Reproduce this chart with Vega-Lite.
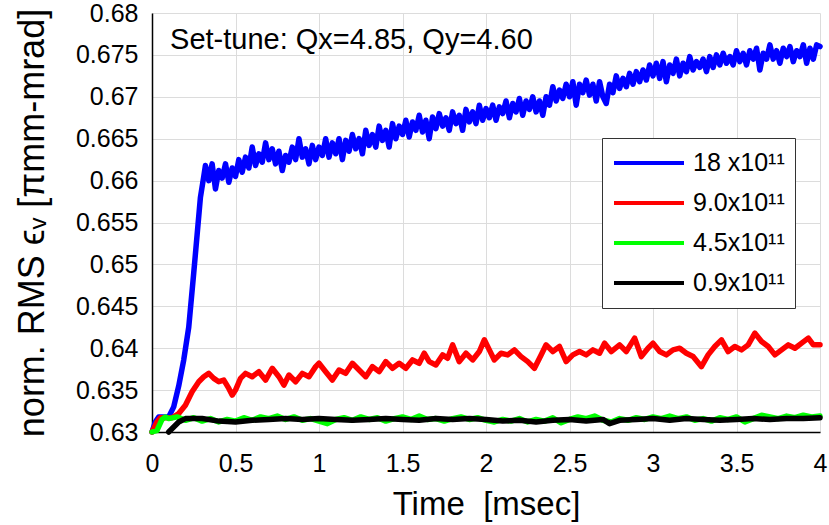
{
  "$schema": "https://vega.github.io/schema/vega-lite/v6.json",
  "width": 668,
  "height": 419,
  "autosize": {"type": "none"},
  "padding": {"left": 152, "top": 13, "right": 9, "bottom": 93},
  "background": "white",
  "config": {
    "view": {"stroke": null},
    "font": "Liberation Sans",
    "axis": {"labelFont": "Liberation Sans", "titleFont": "Liberation Sans", "labelColor": "black", "titleColor": "black", "titleFontWeight": "normal", "gridColor": "#dcdcdc", "gridWidth": 1, "domainColor": "black", "domainWidth": 1.5, "ticks": false, "tickSize": 0}
  },
  "datasets": {
    "series": [
      {"s":"18","t":0,"v":0.63},{"s":"18","t":0.02,"v":0.6312},{"s":"18","t":0.04,"v":0.6318},{"s":"18","t":0.07,"v":0.6318},{"s":"18","t":0.1,"v":0.6318},{"s":"18","t":0.13,"v":0.633},{"s":"18","t":0.16,"v":0.6355},{"s":"18","t":0.19,"v":0.6386},{"s":"18","t":0.22,"v":0.6425},{"s":"18","t":0.25,"v":0.649},{"s":"18","t":0.27,"v":0.6535},{"s":"18","t":0.29,"v":0.658},{"s":"18","t":0.31,"v":0.6605},{"s":"18","t":0.32,"v":0.6618},
      {"s":"18","t":0.34,"v":0.66},{"s":"18","t":0.36,"v":0.662},{"s":"18","t":0.38,"v":0.659},{"s":"18","t":0.4,"v":0.6612},{"s":"18","t":0.42,"v":0.6603},{"s":"18","t":0.44,"v":0.662},{"s":"18","t":0.46,"v":0.6598},{"s":"18","t":0.48,"v":0.6615},{"s":"18","t":0.5,"v":0.6605},{"s":"18","t":0.52,"v":0.6625},{"s":"18","t":0.54,"v":0.661},{"s":"18","t":0.56,"v":0.6628},{"s":"18","t":0.58,"v":0.6615},{"s":"18","t":0.6,"v":0.664},{"s":"18","t":0.62,"v":0.6618},{"s":"18","t":0.64,"v":0.6632},{"s":"18","t":0.66,"v":0.6622},{"s":"18","t":0.68,"v":0.6645},{"s":"18","t":0.7,"v":0.6625},{"s":"18","t":0.72,"v":0.6638},{"s":"18","t":0.74,"v":0.662},{"s":"18","t":0.76,"v":0.6635},{"s":"18","t":0.78,"v":0.6612},{"s":"18","t":0.8,"v":0.663},{"s":"18","t":0.82,"v":0.6622},{"s":"18","t":0.84,"v":0.664},{"s":"18","t":0.86,"v":0.6625},{"s":"18","t":0.88,"v":0.665},{"s":"18","t":0.9,"v":0.6628},{"s":"18","t":0.92,"v":0.6638},{"s":"18","t":0.94,"v":0.662},{"s":"18","t":0.96,"v":0.6642},{"s":"18","t":0.98,"v":0.6625},{"s":"18","t":1.0,"v":0.664},
      {"s":"18","t":1.02,"v":0.663},{"s":"18","t":1.04,"v":0.665},{"s":"18","t":1.06,"v":0.6628},{"s":"18","t":1.08,"v":0.6645},{"s":"18","t":1.1,"v":0.6632},{"s":"18","t":1.12,"v":0.665},{"s":"18","t":1.14,"v":0.6625},{"s":"18","t":1.16,"v":0.6648},{"s":"18","t":1.18,"v":0.6635},{"s":"18","t":1.2,"v":0.6655},{"s":"18","t":1.22,"v":0.6638},{"s":"18","t":1.24,"v":0.665},{"s":"18","t":1.26,"v":0.6632},{"s":"18","t":1.28,"v":0.666},{"s":"18","t":1.3,"v":0.6642},{"s":"18","t":1.32,"v":0.6655},{"s":"18","t":1.34,"v":0.664},{"s":"18","t":1.36,"v":0.6665},{"s":"18","t":1.38,"v":0.6648},{"s":"18","t":1.4,"v":0.666},{"s":"18","t":1.42,"v":0.664},{"s":"18","t":1.44,"v":0.6668},{"s":"18","t":1.46,"v":0.665},{"s":"18","t":1.48,"v":0.6665},{"s":"18","t":1.5,"v":0.6655},{"s":"18","t":1.52,"v":0.6672},{"s":"18","t":1.54,"v":0.6652},{"s":"18","t":1.56,"v":0.667},{"s":"18","t":1.58,"v":0.666},{"s":"18","t":1.6,"v":0.6678},{"s":"18","t":1.62,"v":0.6658},{"s":"18","t":1.64,"v":0.6672},{"s":"18","t":1.66,"v":0.665},{"s":"18","t":1.68,"v":0.6676},{"s":"18","t":1.7,"v":0.6662},{"s":"18","t":1.72,"v":0.668},{"s":"18","t":1.74,"v":0.6665},{"s":"18","t":1.76,"v":0.6675},{"s":"18","t":1.78,"v":0.666},{"s":"18","t":1.8,"v":0.6682},{"s":"18","t":1.82,"v":0.6668},{"s":"18","t":1.84,"v":0.6678},{"s":"18","t":1.86,"v":0.666},{"s":"18","t":1.88,"v":0.6685},{"s":"18","t":1.9,"v":0.667},{"s":"18","t":1.92,"v":0.6682},{"s":"18","t":1.94,"v":0.6668},{"s":"18","t":1.96,"v":0.669},{"s":"18","t":1.98,"v":0.6672},{"s":"18","t":2.0,"v":0.6686},
      {"s":"18","t":2.02,"v":0.6675},{"s":"18","t":2.04,"v":0.669},{"s":"18","t":2.06,"v":0.6672},{"s":"18","t":2.08,"v":0.6688},{"s":"18","t":2.1,"v":0.668},{"s":"18","t":2.12,"v":0.6695},{"s":"18","t":2.14,"v":0.6675},{"s":"18","t":2.16,"v":0.6692},{"s":"18","t":2.18,"v":0.6682},{"s":"18","t":2.2,"v":0.6698},{"s":"18","t":2.22,"v":0.6678},{"s":"18","t":2.24,"v":0.6695},{"s":"18","t":2.26,"v":0.6685},{"s":"18","t":2.28,"v":0.67},{"s":"18","t":2.3,"v":0.6682},{"s":"18","t":2.32,"v":0.6695},{"s":"18","t":2.34,"v":0.6678},{"s":"18","t":2.36,"v":0.67},{"s":"18","t":2.38,"v":0.669},{"s":"18","t":2.4,"v":0.6712},{"s":"18","t":2.42,"v":0.6695},{"s":"18","t":2.44,"v":0.6708},{"s":"18","t":2.46,"v":0.6698},{"s":"18","t":2.48,"v":0.6715},{"s":"18","t":2.5,"v":0.67},{"s":"18","t":2.52,"v":0.6718},{"s":"18","t":2.54,"v":0.669},{"s":"18","t":2.56,"v":0.6715},{"s":"18","t":2.58,"v":0.6705},{"s":"18","t":2.6,"v":0.672},{"s":"18","t":2.62,"v":0.6702},{"s":"18","t":2.64,"v":0.6715},{"s":"18","t":2.66,"v":0.6695},{"s":"18","t":2.68,"v":0.6718},{"s":"18","t":2.7,"v":0.67},{"s":"18","t":2.72,"v":0.6692},{"s":"18","t":2.74,"v":0.6715},{"s":"18","t":2.76,"v":0.6705},{"s":"18","t":2.78,"v":0.6725},{"s":"18","t":2.8,"v":0.671},{"s":"18","t":2.82,"v":0.6722},{"s":"18","t":2.84,"v":0.6712},{"s":"18","t":2.86,"v":0.6728},{"s":"18","t":2.88,"v":0.6715},{"s":"18","t":2.9,"v":0.673},{"s":"18","t":2.92,"v":0.6718},{"s":"18","t":2.94,"v":0.6732},{"s":"18","t":2.96,"v":0.672},{"s":"18","t":2.98,"v":0.6738},{"s":"18","t":3.0,"v":0.6725},
      {"s":"18","t":3.02,"v":0.674},{"s":"18","t":3.04,"v":0.6722},{"s":"18","t":3.06,"v":0.6742},{"s":"18","t":3.08,"v":0.6718},{"s":"18","t":3.1,"v":0.6738},{"s":"18","t":3.12,"v":0.6728},{"s":"18","t":3.14,"v":0.6745},{"s":"18","t":3.16,"v":0.6725},{"s":"18","t":3.18,"v":0.674},{"s":"18","t":3.2,"v":0.673},{"s":"18","t":3.22,"v":0.6748},{"s":"18","t":3.24,"v":0.6732},{"s":"18","t":3.26,"v":0.6742},{"s":"18","t":3.28,"v":0.6735},{"s":"18","t":3.3,"v":0.6745},{"s":"18","t":3.32,"v":0.673},{"s":"18","t":3.34,"v":0.6748},{"s":"18","t":3.36,"v":0.6735},{"s":"18","t":3.38,"v":0.675},{"s":"18","t":3.4,"v":0.6738},{"s":"18","t":3.42,"v":0.6752},{"s":"18","t":3.44,"v":0.674},{"s":"18","t":3.46,"v":0.6748},{"s":"18","t":3.48,"v":0.6738},{"s":"18","t":3.5,"v":0.6755},{"s":"18","t":3.52,"v":0.6742},{"s":"18","t":3.54,"v":0.6752},{"s":"18","t":3.56,"v":0.6738},{"s":"18","t":3.58,"v":0.6755},{"s":"18","t":3.6,"v":0.6745},{"s":"18","t":3.62,"v":0.6758},{"s":"18","t":3.64,"v":0.6732},{"s":"18","t":3.66,"v":0.6752},{"s":"18","t":3.68,"v":0.6745},{"s":"18","t":3.7,"v":0.6762},{"s":"18","t":3.72,"v":0.6745},{"s":"18","t":3.74,"v":0.6755},{"s":"18","t":3.76,"v":0.674},{"s":"18","t":3.78,"v":0.6758},{"s":"18","t":3.8,"v":0.6748},{"s":"18","t":3.82,"v":0.676},{"s":"18","t":3.84,"v":0.6742},{"s":"18","t":3.86,"v":0.6755},{"s":"18","t":3.88,"v":0.6748},{"s":"18","t":3.9,"v":0.6762},{"s":"18","t":3.92,"v":0.674},{"s":"18","t":3.94,"v":0.6758},{"s":"18","t":3.96,"v":0.6745},{"s":"18","t":3.98,"v":0.6762},{"s":"18","t":4.0,"v":0.676},

      {"s":"9.0","t":0,"v":0.63},{"s":"9.0","t":0.03,"v":0.6312},{"s":"9.0","t":0.05,"v":0.6317},{"s":"9.0","t":0.12,"v":0.6317},{"s":"9.0","t":0.16,"v":0.6322},{"s":"9.0","t":0.2,"v":0.6332},{"s":"9.0","t":0.24,"v":0.6348},{"s":"9.0","t":0.28,"v":0.636},{"s":"9.0","t":0.31,"v":0.6366},{"s":"9.0","t":0.34,"v":0.637},{"s":"9.0","t":0.37,"v":0.6364},{"s":"9.0","t":0.4,"v":0.636},{"s":"9.0","t":0.43,"v":0.6362},{"s":"9.0","t":0.46,"v":0.6352},{"s":"9.0","t":0.48,"v":0.6344},{"s":"9.0","t":0.5,"v":0.635},{"s":"9.0","t":0.53,"v":0.6364},{"s":"9.0","t":0.56,"v":0.637},{"s":"9.0","t":0.6,"v":0.6366},{"s":"9.0","t":0.64,"v":0.6372},{"s":"9.0","t":0.68,"v":0.6362},{"s":"9.0","t":0.72,"v":0.6376},{"s":"9.0","t":0.76,"v":0.6366},{"s":"9.0","t":0.79,"v":0.6356},{"s":"9.0","t":0.82,"v":0.6368},{"s":"9.0","t":0.86,"v":0.636},{"s":"9.0","t":0.9,"v":0.637},{"s":"9.0","t":0.94,"v":0.6366},{"s":"9.0","t":0.98,"v":0.6378},{"s":"9.0","t":1.0,"v":0.6382},{"s":"9.0","t":1.04,"v":0.6372},{"s":"9.0","t":1.08,"v":0.6362},{"s":"9.0","t":1.12,"v":0.6374},{"s":"9.0","t":1.16,"v":0.637},{"s":"9.0","t":1.2,"v":0.6382},{"s":"9.0","t":1.24,"v":0.6374},{"s":"9.0","t":1.28,"v":0.6366},{"s":"9.0","t":1.32,"v":0.6378},{"s":"9.0","t":1.36,"v":0.6372},{"s":"9.0","t":1.4,"v":0.6384},{"s":"9.0","t":1.44,"v":0.6376},{"s":"9.0","t":1.48,"v":0.6382},{"s":"9.0","t":1.52,"v":0.6376},{"s":"9.0","t":1.56,"v":0.6386},{"s":"9.0","t":1.6,"v":0.6382},{"s":"9.0","t":1.63,"v":0.6394},{"s":"9.0","t":1.66,"v":0.6384},{"s":"9.0","t":1.7,"v":0.638},{"s":"9.0","t":1.74,"v":0.6392},{"s":"9.0","t":1.77,"v":0.6388},{"s":"9.0","t":1.8,"v":0.6404},{"s":"9.0","t":1.84,"v":0.6384},{"s":"9.0","t":1.88,"v":0.6394},{"s":"9.0","t":1.92,"v":0.6386},{"s":"9.0","t":1.96,"v":0.6396},{"s":"9.0","t":1.99,"v":0.641},{"s":"9.0","t":2.02,"v":0.6398},{"s":"9.0","t":2.05,"v":0.6386},{"s":"9.0","t":2.09,"v":0.6394},{"s":"9.0","t":2.13,"v":0.6392},{"s":"9.0","t":2.17,"v":0.6398},{"s":"9.0","t":2.21,"v":0.639},{"s":"9.0","t":2.25,"v":0.6384},{"s":"9.0","t":2.29,"v":0.6376},{"s":"9.0","t":2.33,"v":0.6392},{"s":"9.0","t":2.36,"v":0.6404},{"s":"9.0","t":2.4,"v":0.6396},{"s":"9.0","t":2.44,"v":0.6402},{"s":"9.0","t":2.48,"v":0.6384},{"s":"9.0","t":2.52,"v":0.6392},{"s":"9.0","t":2.56,"v":0.6396},{"s":"9.0","t":2.6,"v":0.6392},{"s":"9.0","t":2.64,"v":0.6398},{"s":"9.0","t":2.68,"v":0.6394},{"s":"9.0","t":2.71,"v":0.6406},{"s":"9.0","t":2.75,"v":0.6396},{"s":"9.0","t":2.8,"v":0.6404},{"s":"9.0","t":2.84,"v":0.6396},{"s":"9.0","t":2.89,"v":0.6412},{"s":"9.0","t":2.93,"v":0.639},{"s":"9.0","t":2.97,"v":0.64},{"s":"9.0","t":3.0,"v":0.6406},{"s":"9.0","t":3.04,"v":0.6396},{"s":"9.0","t":3.08,"v":0.6392},{"s":"9.0","t":3.12,"v":0.6398},{"s":"9.0","t":3.16,"v":0.64},{"s":"9.0","t":3.2,"v":0.6394},{"s":"9.0","t":3.24,"v":0.639},{"s":"9.0","t":3.29,"v":0.6378},{"s":"9.0","t":3.33,"v":0.6392},{"s":"9.0","t":3.37,"v":0.6402},{"s":"9.0","t":3.41,"v":0.641},{"s":"9.0","t":3.45,"v":0.6396},{"s":"9.0","t":3.49,"v":0.6402},{"s":"9.0","t":3.53,"v":0.6398},{"s":"9.0","t":3.57,"v":0.6404},{"s":"9.0","t":3.61,"v":0.6418},{"s":"9.0","t":3.65,"v":0.6408},{"s":"9.0","t":3.69,"v":0.6402},{"s":"9.0","t":3.73,"v":0.6392},{"s":"9.0","t":3.77,"v":0.6398},{"s":"9.0","t":3.81,"v":0.6404},{"s":"9.0","t":3.85,"v":0.64},{"s":"9.0","t":3.89,"v":0.6406},{"s":"9.0","t":3.93,"v":0.6412},{"s":"9.0","t":3.96,"v":0.6404},{"s":"9.0","t":4.0,"v":0.6404},

      {"s":"4.5","t":0,"v":0.63},{"s":"4.5","t":0.03,"v":0.6302},{"s":"4.5","t":0.06,"v":0.6315},{"s":"4.5","t":0.08,"v":0.6318},{"s":"4.5","t":0.1,"v":0.6316},{"s":"4.5","t":0.15,"v":0.6318},{"s":"4.5","t":0.2,"v":0.6314},{"s":"4.5","t":0.25,"v":0.6317},{"s":"4.5","t":0.3,"v":0.6313},{"s":"4.5","t":0.35,"v":0.6316},{"s":"4.5","t":0.4,"v":0.6312},{"s":"4.5","t":0.45,"v":0.6315},{"s":"4.5","t":0.5,"v":0.6313},{"s":"4.5","t":0.55,"v":0.6317},{"s":"4.5","t":0.6,"v":0.6314},{"s":"4.5","t":0.65,"v":0.6318},{"s":"4.5","t":0.7,"v":0.6316},{"s":"4.5","t":0.75,"v":0.6319},{"s":"4.5","t":0.8,"v":0.6315},{"s":"4.5","t":0.85,"v":0.6318},{"s":"4.5","t":0.9,"v":0.6314},{"s":"4.5","t":0.95,"v":0.6316},{"s":"4.5","t":1.0,"v":0.6313},{"s":"4.5","t":1.05,"v":0.631},{"s":"4.5","t":1.1,"v":0.6315},{"s":"4.5","t":1.15,"v":0.6317},{"s":"4.5","t":1.2,"v":0.6314},{"s":"4.5","t":1.25,"v":0.6318},{"s":"4.5","t":1.3,"v":0.6315},{"s":"4.5","t":1.35,"v":0.6317},{"s":"4.5","t":1.4,"v":0.6313},{"s":"4.5","t":1.45,"v":0.6316},{"s":"4.5","t":1.5,"v":0.6318},{"s":"4.5","t":1.55,"v":0.6315},{"s":"4.5","t":1.6,"v":0.6319},{"s":"4.5","t":1.65,"v":0.6315},{"s":"4.5","t":1.7,"v":0.6316},{"s":"4.5","t":1.75,"v":0.6313},{"s":"4.5","t":1.8,"v":0.6316},{"s":"4.5","t":1.85,"v":0.6318},{"s":"4.5","t":1.9,"v":0.6315},{"s":"4.5","t":1.95,"v":0.6317},{"s":"4.5","t":2.0,"v":0.6314},{"s":"4.5","t":2.05,"v":0.6312},{"s":"4.5","t":2.1,"v":0.6315},{"s":"4.5","t":2.15,"v":0.6313},{"s":"4.5","t":2.2,"v":0.6316},{"s":"4.5","t":2.25,"v":0.6312},{"s":"4.5","t":2.3,"v":0.6315},{"s":"4.5","t":2.35,"v":0.6313},{"s":"4.5","t":2.4,"v":0.6317},{"s":"4.5","t":2.45,"v":0.6311},{"s":"4.5","t":2.5,"v":0.6315},{"s":"4.5","t":2.55,"v":0.6318},{"s":"4.5","t":2.6,"v":0.6316},{"s":"4.5","t":2.65,"v":0.6319},{"s":"4.5","t":2.7,"v":0.6314},{"s":"4.5","t":2.75,"v":0.6312},{"s":"4.5","t":2.8,"v":0.6316},{"s":"4.5","t":2.85,"v":0.6314},{"s":"4.5","t":2.9,"v":0.6317},{"s":"4.5","t":2.95,"v":0.6315},{"s":"4.5","t":3.0,"v":0.6318},{"s":"4.5","t":3.05,"v":0.6316},{"s":"4.5","t":3.1,"v":0.6319},{"s":"4.5","t":3.15,"v":0.6316},{"s":"4.5","t":3.2,"v":0.6318},{"s":"4.5","t":3.25,"v":0.6314},{"s":"4.5","t":3.3,"v":0.6316},{"s":"4.5","t":3.35,"v":0.6313},{"s":"4.5","t":3.4,"v":0.6317},{"s":"4.5","t":3.45,"v":0.6315},{"s":"4.5","t":3.5,"v":0.6318},{"s":"4.5","t":3.55,"v":0.6312},{"s":"4.5","t":3.6,"v":0.6316},{"s":"4.5","t":3.65,"v":0.632},{"s":"4.5","t":3.7,"v":0.6318},{"s":"4.5","t":3.75,"v":0.6316},{"s":"4.5","t":3.8,"v":0.6319},{"s":"4.5","t":3.85,"v":0.6317},{"s":"4.5","t":3.9,"v":0.632},{"s":"4.5","t":3.95,"v":0.6318},{"s":"4.5","t":4.0,"v":0.6319},

      {"s":"0.9","t":0.1,"v":0.63},{"s":"0.9","t":0.13,"v":0.6306},{"s":"0.9","t":0.16,"v":0.6312},{"s":"0.9","t":0.2,"v":0.6316},{"s":"0.9","t":0.3,"v":0.6316},{"s":"0.9","t":0.4,"v":0.6313},{"s":"0.9","t":0.5,"v":0.6312},{"s":"0.9","t":0.6,"v":0.6314},{"s":"0.9","t":0.7,"v":0.6315},{"s":"0.9","t":0.8,"v":0.6316},{"s":"0.9","t":0.9,"v":0.6315},{"s":"0.9","t":1.0,"v":0.6316},{"s":"0.9","t":1.1,"v":0.6315},{"s":"0.9","t":1.2,"v":0.6314},{"s":"0.9","t":1.3,"v":0.6315},{"s":"0.9","t":1.4,"v":0.6316},{"s":"0.9","t":1.5,"v":0.6315},{"s":"0.9","t":1.6,"v":0.6314},{"s":"0.9","t":1.7,"v":0.6316},{"s":"0.9","t":1.8,"v":0.6315},{"s":"0.9","t":1.9,"v":0.6316},{"s":"0.9","t":2.0,"v":0.6315},{"s":"0.9","t":2.1,"v":0.6313},{"s":"0.9","t":2.2,"v":0.6314},{"s":"0.9","t":2.3,"v":0.6312},{"s":"0.9","t":2.4,"v":0.6314},{"s":"0.9","t":2.5,"v":0.6315},{"s":"0.9","t":2.6,"v":0.6313},{"s":"0.9","t":2.7,"v":0.6315},{"s":"0.9","t":2.74,"v":0.631},{"s":"0.9","t":2.8,"v":0.6314},{"s":"0.9","t":2.9,"v":0.6315},{"s":"0.9","t":3.0,"v":0.6316},{"s":"0.9","t":3.1,"v":0.6314},{"s":"0.9","t":3.2,"v":0.6316},{"s":"0.9","t":3.3,"v":0.6315},{"s":"0.9","t":3.4,"v":0.6314},{"s":"0.9","t":3.5,"v":0.6315},{"s":"0.9","t":3.6,"v":0.6316},{"s":"0.9","t":3.7,"v":0.6315},{"s":"0.9","t":3.8,"v":0.6316},{"s":"0.9","t":3.9,"v":0.6316},{"s":"0.9","t":4.0,"v":0.6317}
    ]
  },
  "layer": [
    {"data": {"name": "series"},
     "transform": [{"filter": "datum.s == '18'"}],
     "mark": {"type": "line", "strokeWidth": 5.5, "strokeJoin": "round", "strokeCap": "round"},
     "encoding": {
      "x": {"field": "t", "type": "quantitative", "scale": {"domain": [0, 4], "nice": false},
        "axis": {"values": [0,0.5,1,1.5,2,2.5,3,3.5,4], "format": "~g", "title": "Time\u00a0 [msec]", "titleFontSize": 33, "labelFontSize": 25, "labelPadding": 19, "titlePadding": 12, "labelFlush": false, "labelOverlap": false}},
      "y": {"field": "v", "type": "quantitative", "scale": {"domain": [0.63, 0.68], "nice": false, "zero": false},
        "axis": {"values": [0.63,0.635,0.64,0.645,0.65,0.655,0.66,0.665,0.67,0.675,0.68], "format": "~g", "title": "norm. RMS \u03f5\u1d65 [\u03c0mm-mrad]", "titleFontSize": 36, "labelFontSize": 25, "labelPadding": 14, "titlePadding": 24, "labelFlush": false, "labelOverlap": false}},
      "color": {"field": "s", "type": "nominal",
        "scale": {"domain": ["18", "9.0", "4.5", "0.9"], "range": ["#0000ff", "#ff0000", "#00ff00", "#000000"]},
        "legend": {"title": null, "orient": "none", "legendX": 450, "legendY": 125,
          "labelExpr": "datum.label == '18' ? '18 x10\u00b9\u00b9' : datum.label + 'x10\u00b9\u00b9'",
          "symbolType": "stroke", "symbolSize": 4900, "symbolStrokeWidth": 4, "clipHeight": 30, "rowPadding": 10,
          "labelFontSize": 25, "labelFont": "Liberation Sans", "labelColor": "black", "labelOffset": 7, "labelLimit": 300,
          "padding": 10, "strokeColor": "#333333", "fillColor": "white", "cornerRadius": 0}}
     }},
    {"data": {"name": "series"}, "transform": [{"filter": "datum.s == '9.0'"}], "mark": {"type": "line", "strokeWidth": 5.5, "strokeJoin": "round", "strokeCap": "round"},
     "encoding": {"x": {"field": "t", "type": "quantitative"}, "y": {"field": "v", "type": "quantitative"}, "color": {"field": "s", "type": "nominal"}}},
    {"data": {"name": "series"}, "transform": [{"filter": "datum.s == '4.5'"}], "mark": {"type": "line", "strokeWidth": 5.5, "strokeJoin": "round", "strokeCap": "round"},
     "encoding": {"x": {"field": "t", "type": "quantitative"}, "y": {"field": "v", "type": "quantitative"}, "color": {"field": "s", "type": "nominal"}}},
    {"data": {"name": "series"}, "transform": [{"filter": "datum.s == '0.9'"}], "mark": {"type": "line", "strokeWidth": 5.5, "strokeJoin": "round", "strokeCap": "round"},
     "encoding": {"x": {"field": "t", "type": "quantitative"}, "y": {"field": "v", "type": "quantitative"}, "color": {"field": "s", "type": "nominal"}}},
    {"data": {"values": [{}]},
     "mark": {"type": "text", "align": "left", "baseline": "alphabetic", "fontSize": 29, "font": "Liberation Sans", "color": "black"},
     "encoding": {"x": {"datum": 0.108, "type": "quantitative"}, "y": {"datum": 0.6757, "type": "quantitative"}, "text": {"value": "Set-tune: Qx=4.85, Qy=4.60"}}}
  ]
}
